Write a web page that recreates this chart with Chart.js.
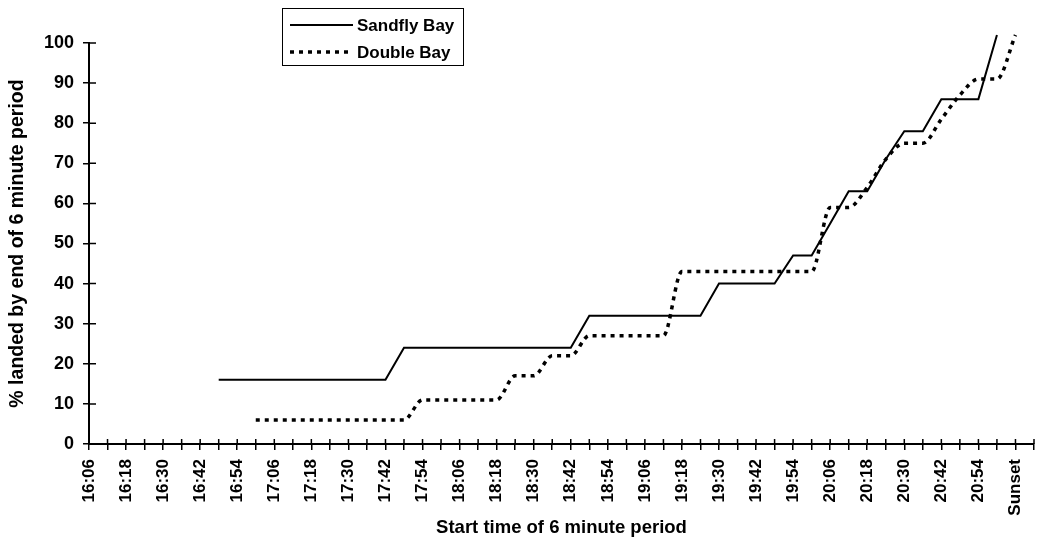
<!DOCTYPE html>
<html>
<head>
<meta charset="utf-8">
<script src="https://cdn.jsdelivr.net/npm/chart.js@4/dist/chart.umd.min.js"></script>
<style>
  html, body { margin: 0; padding: 0; background: #fff; }
  #wrap { width: 1048px; height: 548px; }
</style>
</head>
<body>
<div id="wrap"><canvas id="c" width="1048" height="548"></canvas></div>
<script>
// start times of the 6 minute periods (last slot is the empty end of the axis)
var times = [
  "16:06","16:12","16:18","16:24","16:30","16:36","16:42","16:48","16:54","17:00",
  "17:06","17:12","17:18","17:24","17:30","17:36","17:42","17:48","17:54","18:00",
  "18:06","18:12","18:18","18:24","18:30","18:36","18:42","18:48","18:54","19:00",
  "19:06","19:12","19:18","19:24","19:30","19:36","19:42","19:48","19:54","20:00",
  "20:06","20:12","20:18","20:24","20:30","20:36","20:42","20:48","20:54","21:00",
  "Sunset",""
];

var sandfly = [
  null,null,null,null,null,null,null,16,16,16,
  16,16,16,16,16,16,16,24,24,24,
  24,24,24,24,24,24,24,32,32,32,
  32,32,32,32,40,40,40,40,47,47,
  55,63,63,71,78,78,86,86,86,102,
  null,null
];

var doubleBay = [
  null,null,null,null,null,null,null,null,null,6,
  6,6,6,6,6,6,6,6,11,11,
  11,11,11,17,17,22,22,27,27,27,
  27,27,43,43,43,43,43,43,43,43,
  59,59,64,71,75,75,81,87,91,91,
  102,null
];

var yTicks = [0,10,20,30,40,50,60,70,80,90,100];

var FONT = "'Liberation Sans', Arial, Helvetica, sans-serif";

// short tick marks inside the plot too, so they cross the axes
var crossTicks = {
  id: 'crossTicks',
  afterDraw: function(chart) {
    var ctx = chart.ctx, x = chart.scales.x, y = chart.scales.y;
    ctx.save();
    ctx.strokeStyle = '#000';
    ctx.lineWidth = 1.5;
    ctx.beginPath();
    for (var i = 0; i < x.ticks.length; i++) {
      var px = x.getPixelForTick(i);
      ctx.moveTo(px, y.bottom);
      ctx.lineTo(px, y.bottom - 5);
    }
    for (var j = 0; j < y.ticks.length; j++) {
      var py = y.getPixelForTick(j);
      ctx.moveTo(x.left, py);
      ctx.lineTo(x.left + 7, py);
    }
    ctx.stroke();
    ctx.restore();
  }
};

// boxed legend at the top
var boxLegend = {
  id: 'boxLegend',
  afterDraw: function(chart) {
    var ctx = chart.ctx;
    ctx.save();
    ctx.strokeStyle = '#000';
    ctx.lineWidth = 1;
    ctx.strokeRect(282.5, 8.5, 181, 57);
    ctx.font = 'bold 17px ' + FONT;
    ctx.fillStyle = '#000';
    ctx.textBaseline = 'middle';
    var rows = [25, 52];
    chart.data.datasets.forEach(function(ds, i) {
      var yy = rows[i];
      ctx.beginPath();
      ctx.lineWidth = ds.borderWidth;
      ctx.setLineDash(ds.borderDash || []);
      ctx.moveTo(290, yy);
      ctx.lineTo(353, yy);
      ctx.stroke();
      ctx.setLineDash([]);
      ctx.fillText(ds.label, 357, yy + 1);
    });
    ctx.restore();
  }
};

new Chart(document.getElementById('c'), {
  type: 'line',
  data: {
    labels: times,
    datasets: [
      {
        label: 'Sandfly Bay',
        data: sandfly,
        borderColor: '#000',
        borderWidth: 2,
        pointRadius: 0,
        tension: 0,
        clip: false
      },
      {
        label: 'Double Bay',
        data: doubleBay,
        borderColor: '#000',
        borderWidth: 3.5,
        borderDash: [4, 5],
        pointRadius: 0,
        cubicInterpolationMode: 'monotone',
        clip: false
      }
    ]
  },
  options: {
    responsive: false,
    animation: false,
    layout: { padding: { top: 43, right: 14, left: 0, bottom: 0 } },
    plugins: { legend: { display: false }, tooltip: { enabled: false } },
    scales: {
      x: {
        type: 'category',
        offset: false,
        afterFit: function(s) { s.height = 104; s.paddingLeft = 0; s.paddingRight = 0; },
        border: { color: '#000', width: 2 },
        grid: { drawOnChartArea: false, drawTicks: true, tickLength: 6, color: '#000', lineWidth: 1.5 },
        ticks: {
          autoSkip: false,
          minRotation: 90,
          maxRotation: 90,
          padding: 9,
          color: '#000',
          font: { family: FONT, size: 17, weight: 'bold' },
          callback: function(v, i) { return i % 2 === 0 ? times[i] : ''; }
        },
        title: {
          display: true,
          text: 'Start time of 6 minute period',
          color: '#000',
          font: { family: FONT, size: 18.5, weight: 'bold' },
          padding: { top: 0, bottom: 9 }
        }
      },
      y: {
        min: 0,
        max: 100,
        afterFit: function(s) { s.width = 89; },
        afterBuildTicks: function(s) { s.ticks = yTicks.map(function(v) { return { value: v }; }); },
        border: { color: '#000', width: 2 },
        grid: { drawOnChartArea: false, drawTicks: true, tickLength: 6, color: '#000', lineWidth: 1.5 },
        ticks: {
          padding: 9,
          color: '#000',
          font: { family: FONT, size: 18, weight: 'bold' }
        },
        title: {
          display: true,
          text: '% landed by end of 6 minute period',
          color: '#000',
          font: { family: FONT, size: 19.5, weight: 'bold' },
          padding: { top: 6, bottom: 0 }
        }
      }
    }
  },
  plugins: [crossTicks, boxLegend]
});
</script>
</body>
</html>
